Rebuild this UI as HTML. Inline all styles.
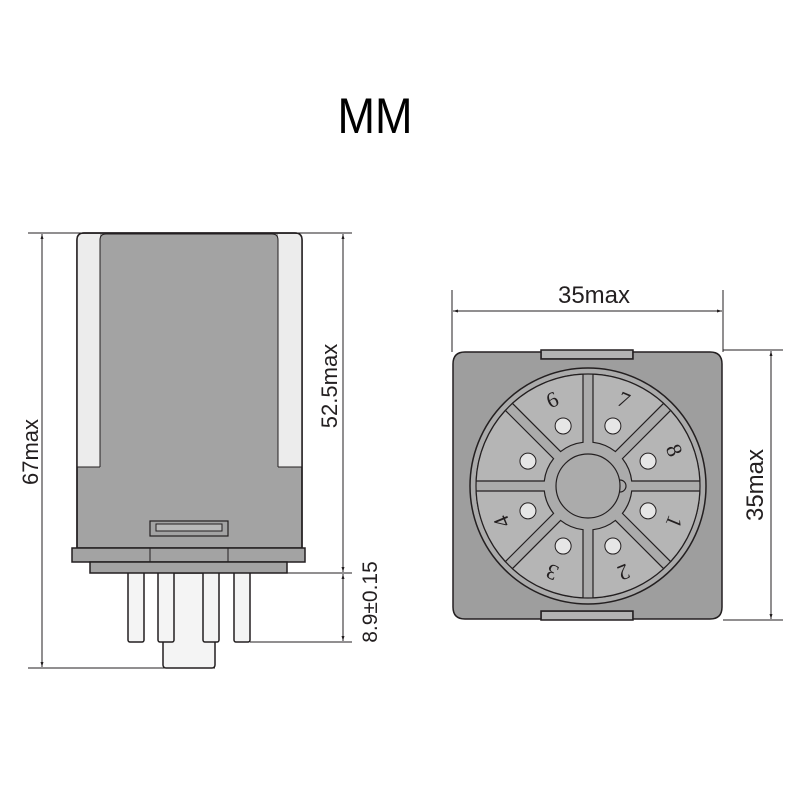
<!DOCTYPE html>
<html><head><meta charset="utf-8"><style>html,body{margin:0;padding:0;background:#fff}svg{display:block}</style></head>
<body>
<svg width="800" height="800" viewBox="0 0 800 800" xmlns="http://www.w3.org/2000/svg" font-family="Liberation Sans, sans-serif">
<defs>
<marker id="a" viewBox="0 0 10 10" refX="10" refY="5" markerWidth="10" markerHeight="5" markerUnits="userSpaceOnUse" orient="auto-start-reverse"><path d="M0,2 L10,5 L0,8 Z" fill="#231f20"/></marker>
</defs>
<text x="375" y="133" font-size="50" text-anchor="middle" textLength="75" lengthAdjust="spacingAndGlyphs" fill="#000">MM</text>

<!-- left relay -->
<g stroke="#231f20" stroke-width="1.5">
<rect x="163" y="573" width="52" height="95" rx="3" fill="#f4f4f4"/>
<line x1="215" y1="573" x2="215" y2="665" stroke-width="1"/>
<rect x="128" y="570" width="16" height="72" rx="2" fill="#f4f4f4"/>
<rect x="158" y="570" width="16" height="72" rx="2" fill="#f4f4f4"/>
<rect x="203" y="570" width="16" height="72" rx="2" fill="#f4f4f4"/>
<rect x="234" y="570" width="16" height="72" rx="2" fill="#f4f4f4"/>
<path d="M77,548 L77,240 Q77,233 84,233 L295,233 Q302,233 302,240 L302,548 Z" fill="#a3a3a3"/>
<rect x="77" y="234" width="23" height="233" fill="#ececec" stroke="none"/>
<rect x="278" y="234" width="24" height="233" fill="#ececec" stroke="none"/>
<path d="M100,467 L100,240 Q100,234 106,234 L272,234 Q278,234 278,240 L278,467" fill="none" stroke-width="1"/>
<line x1="77" y1="467" x2="100" y2="467" stroke-width="1"/>
<line x1="278" y1="467" x2="302" y2="467" stroke-width="1"/>
<path d="M77,548 L77,240 Q77,233 84,233 L295,233 Q302,233 302,240 L302,548" fill="none"/>
<rect x="150" y="521" width="78" height="15" fill="#a3a3a3" stroke-width="1.2"/>
<rect x="156" y="524" width="66" height="7" fill="#b8b8b8" stroke-width="1"/>
<rect x="72" y="548" width="233" height="14" fill="#a3a3a3"/>
<line x1="150" y1="548" x2="150" y2="562" stroke-width="1"/>
<line x1="228" y1="548" x2="228" y2="562" stroke-width="1"/>
<rect x="90" y="562" width="197" height="11" fill="#a3a3a3"/>
</g>
<!-- left dims -->
<g stroke="#231f20" stroke-width="1" fill="none">
<line x1="28" y1="233" x2="352" y2="233"/>
<line x1="28" y1="668" x2="215" y2="668"/>
<line x1="287" y1="573" x2="352" y2="573"/>
<line x1="250" y1="642" x2="352" y2="642"/>
<line x1="42" y1="234" x2="42" y2="667" marker-start="url(#a)" marker-end="url(#a)"/>
<line x1="343" y1="234" x2="343" y2="572" marker-start="url(#a)" marker-end="url(#a)"/>
<line x1="343" y1="574" x2="343" y2="641" marker-start="url(#a)" marker-end="url(#a)"/>
</g>
<g fill="#231f20" font-size="22">
<text transform="translate(38,452) rotate(-90)" text-anchor="middle">67max</text>
<text transform="translate(337,386) rotate(-90)" text-anchor="middle">52.5max</text>
<text transform="translate(377,602) rotate(-90)" text-anchor="middle" font-size="21">8.9±0.15</text>
</g>

<!-- right view -->
<g stroke="#231f20" stroke-width="1.5">
<rect x="541" y="350" width="92" height="9" fill="#b3b3b3"/>
<rect x="541" y="611" width="92" height="9" fill="#b3b3b3"/>
<path d="M465,352 L541,352 L541,359 L633,359 L633,352 L710,352 Q722,352 722,364 L722,607 Q722,619 710,619 L633,619 L633,611 L541,611 L541,619 L465,619 Q453,619 453,607 L453,364 Q453,352 465,352 Z" fill="#9e9e9e"/>
<circle cx="588" cy="486" r="118" fill="#ababab"/>
<circle cx="588" cy="486" r="112" fill="none" stroke-width="1.2"/>
</g>
<g id="sectors" fill="#b5b5b5" stroke="#231f20" stroke-width="1.2"></g>
<g stroke="#231f20" stroke-width="1.2">
<circle cx="620" cy="486" r="6" fill="#ababab"/>
<circle cx="588" cy="486" r="32" fill="#ababab"/>
</g>
<g id="holes" fill="#e6e6e6" stroke="#231f20" stroke-width="1"></g>
<g id="nums" fill="#231f20" font-size="22" font-family="Liberation Serif, serif" text-anchor="middle"></g>

<!-- right dims -->
<g stroke="#231f20" stroke-width="1" fill="none">
<line x1="452" y1="290" x2="452" y2="352"/>
<line x1="723" y1="290" x2="723" y2="352"/>
<line x1="453" y1="311" x2="722" y2="311" marker-start="url(#a)" marker-end="url(#a)"/>
<line x1="723" y1="350" x2="783" y2="350"/>
<line x1="723" y1="620" x2="783" y2="620"/>
<line x1="771" y1="351" x2="771" y2="619" marker-start="url(#a)" marker-end="url(#a)"/>
</g>
<text x="594" y="303" font-size="24" text-anchor="middle" fill="#231f20">35max</text>
<text transform="translate(763,485) rotate(-90)" font-size="24" text-anchor="middle" fill="#231f20">35max</text>

<script>
(function(){
var ns="http://www.w3.org/2000/svg",cx=588,cy=486,R=112,r=44,g=5;
var S=document.getElementById("sectors"),H=document.getElementById("holes"),N=document.getElementById("nums");
function pt(rad,ang){return [cx+rad*Math.cos(ang),cy+rad*Math.sin(ang)];}
var labels={"-112.5":"6","-67.5":"7","-22.5":"8","22.5":"1","67.5":"2","112.5":"3","157.5":"4","202.5":"5"};
for(var k=0;k<8;k++){
 var a0=(-180+45*k)*Math.PI/180,a1=a0+Math.PI/4;
 var dO=g/R,dI=g/r;
 var p1=pt(R,a0+dO),p2=pt(R,a1-dO),p3=pt(r,a1-dI),p4=pt(r,a0+dI);
 var p=document.createElementNS(ns,"path");
 p.setAttribute("d","M"+p1+" A"+R+","+R+" 0 0 1 "+p2+" L"+p3+" A"+r+","+r+" 0 0 0 "+p4+" Z");
 S.appendChild(p);
 var mid=-180+45*k+22.5,m=mid*Math.PI/180;
 var h=pt(65,m),c=document.createElementNS(ns,"circle");
 c.setAttribute("cx",h[0]);c.setAttribute("cy",h[1]);c.setAttribute("r",8);H.appendChild(c);
 var t=pt(94,m),tx=document.createElementNS(ns,"text");
 tx.setAttribute("transform","translate("+t[0]+","+t[1]+") rotate("+(mid+90)+")");
 tx.setAttribute("dy","8");
 tx.textContent=labels[String(mid)];N.appendChild(tx);
}
})();
</script>
</svg>
</body></html>
